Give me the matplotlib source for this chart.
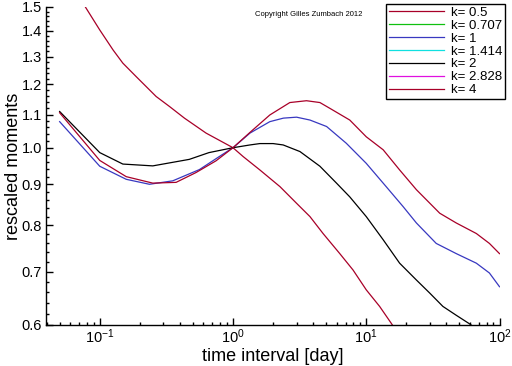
import matplotlib
matplotlib.use("Agg")
import matplotlib.pyplot as plt
from matplotlib.ticker import FixedLocator, FormatStrFormatter, LogLocator, NullFormatter
import numpy as np

plt.rcParams['font.family'] = ['Liberation Sans', 'DejaVu Sans']
plt.rcParams['mathtext.fontset'] = 'custom'
plt.rcParams['mathtext.rm'] = 'Liberation Sans'
plt.rcParams['mathtext.it'] = 'Liberation Sans'

# k = 0.5
x_k05 = [0.05, 0.06, 0.078, 0.1, 0.126, 0.149, 0.188, 0.265, 0.334, 0.432, 0.628, 1.0, 1.19, 1.59,
         2.25, 3.0, 3.78, 4.74, 6.33, 7.96, 10.0, 12.6, 15.4, 20.0]
y_k05 = [1.70, 1.61, 1.50, 1.404, 1.325, 1.276, 1.227, 1.159, 1.126, 1.089, 1.043, 1.0, 0.975, 0.938,
         0.894, 0.852, 0.82, 0.781, 0.737, 0.703, 0.664, 0.633, 0.603, 0.565]
# k = 1
x_k1 = [0.05, 0.1, 0.158, 0.236, 0.353, 0.56, 0.79, 1.0, 1.34, 1.89, 2.39, 3.0, 3.78, 5.04, 7.08,
        10.0, 14.1, 18.9, 23.8, 33.5, 47.4, 67.0, 84.0, 100.0]
y_k1 = [1.078, 0.948, 0.913, 0.90, 0.909, 0.939, 0.975, 1.0, 1.043, 1.078, 1.089, 1.092, 1.083, 1.063,
        1.013, 0.956, 0.894, 0.844, 0.805, 0.759, 0.737, 0.717, 0.697, 0.67]
# k = 2
x_k2 = [0.05, 0.1, 0.149, 0.25, 0.47, 0.66, 1.0, 1.34, 1.59, 2.0, 2.38, 3.18, 4.49, 5.98, 7.52,
        10.0, 13.4, 17.8, 23.8, 29.9, 37.6, 47.4, 59.6, 80.0, 100.0]
y_k2 = [1.11, 0.986, 0.954, 0.949, 0.967, 0.986, 1.0, 1.008, 1.012, 1.012, 1.008, 0.989, 0.948, 0.903,
        0.868, 0.82, 0.767, 0.717, 0.683, 0.658, 0.633, 0.617, 0.602, 0.58, 0.57]
# k = 4
x_k4 = [0.05, 0.1, 0.158, 0.25, 0.374, 0.528, 0.746, 1.0, 1.34, 1.89, 2.67, 3.56, 4.49, 5.34, 7.52,
        10.0, 13.4, 17.8, 23.8, 35.6, 47.4, 67.0, 84.0, 100.0]
y_k4 = [1.106, 0.964, 0.92, 0.903, 0.905, 0.931, 0.963, 1.0, 1.045, 1.099, 1.139, 1.145, 1.139, 1.12,
        1.083, 1.032, 0.994, 0.938, 0.886, 0.828, 0.805, 0.781, 0.759, 0.737]

labels = ["k= 0.5", "k= 0.707", "k= 1", "k= 1.414", "k= 2", "k= 2.828", "k= 4"]
colors = ["#a80028", "#10c010", "#3838c0", "#10e0e0", "#000000", "#e010e0", "#a80028"]
series = {0: (x_k05, y_k05), 2: (x_k1, y_k1), 4: (x_k2, y_k2), 6: (x_k4, y_k4)}

yticks = [0.6, 0.7, 0.8, 0.9, 1.0, 1.1, 1.2, 1.3, 1.4, 1.5]

fig = plt.figure(figsize=(5.12, 3.66), dpi=100)
ax = fig.add_axes([46/512, 41/366, (499.5-46)/512, (325-7)/366])

handles = []
for i, (lab, col) in enumerate(zip(labels, colors)):
    if i in series:
        xs, ys = series[i]
    else:
        xs, ys = [], []
    h, = ax.plot(xs, ys, color=col, lw=0.9, label=lab)
    handles.append(h)

ax.set_xscale('log')
ax.set_yscale('log')
ax.set_xlim(0.0395, 100)
ax.set_ylim(0.6, 1.5)

ax.yaxis.set_major_locator(FixedLocator(yticks))
ax.yaxis.set_major_formatter(FormatStrFormatter('%.1f'))
ax.yaxis.set_minor_locator(FixedLocator(np.round(np.arange(0.6, 1.5001, 0.02), 3)))
ax.yaxis.set_minor_formatter(NullFormatter())
ax.xaxis.set_major_locator(LogLocator(base=10, numticks=10))
ax.xaxis.set_minor_locator(LogLocator(base=10, subs=np.arange(2, 10), numticks=10))
ax.xaxis.set_minor_formatter(NullFormatter())

for s in ['top', 'right']:
    ax.spines[s].set_visible(False)
for s in ['left', 'bottom']:
    ax.spines[s].set_linewidth(1.0)

ax.tick_params(which='major', direction='in', length=5, width=1, labelsize=10.5, pad=3)
ax.tick_params(axis='x', which='major', pad=2)
ax.tick_params(which='minor', direction='in', length=2.5, width=1)

ax.set_xlabel("time interval [day]", fontsize=13)
ax.set_ylabel("rescaled moments", fontsize=13)
ax.xaxis.set_label_coords(0.5, -0.071)
ax.yaxis.set_label_coords(-0.053, 0.5)

fig.text(255/512, 1-15/366, "Copyright Gilles Zumbach 2012", fontsize=5.5, va='center', ha='left')

leg = fig.legend(handles=handles, loc='upper right', bbox_to_anchor=(505/512, 1-4/366),
                 bbox_transform=fig.transFigure, fontsize=9.5, handlelength=4.2,
                 labelspacing=0.05, borderaxespad=0, borderpad=0.2, handletextpad=0.5,
                 fancybox=False, framealpha=1, edgecolor='black')
leg.get_frame().set_linewidth(1.0)

fig.savefig("out.png", dpi=100)
